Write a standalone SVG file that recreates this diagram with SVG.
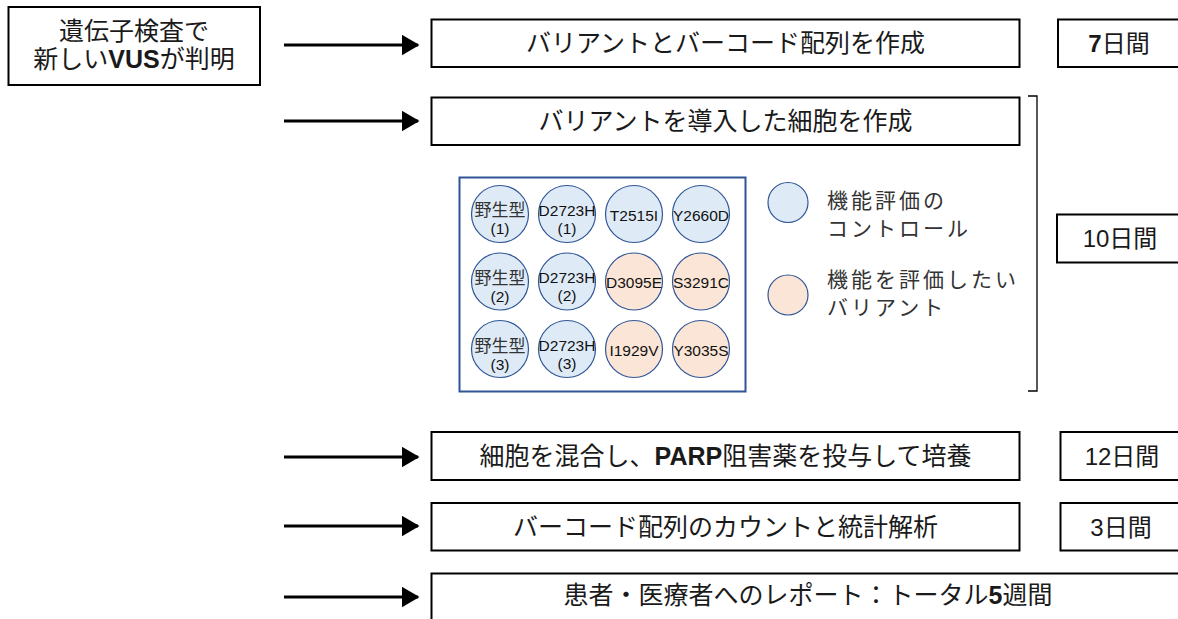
<svg xmlns="http://www.w3.org/2000/svg" width="1178" height="619" viewBox="0 0 1178 619">
<defs>
<style>
.box{fill:#fff;stroke:#000;stroke-width:2}
.t{font-family:"Liberation Sans","Noto Sans CJK JP",sans-serif;font-size:25px;fill:#1a1a1a;text-anchor:middle}
.d{font-size:24px}
.b{font-weight:bold}
.arr{stroke:#000;stroke-width:3;fill:none;marker-end:url(#ah)}
.wb{fill:#DEEBF7;stroke:#2F5597;stroke-width:1.2}
.wo{fill:#FBE5D6;stroke:#2F5597;stroke-width:1.2}
.ct{font-family:"Liberation Sans","Noto Sans CJK JP",sans-serif;font-size:15.5px;fill:#111;text-anchor:middle}
.cj{font-size:17px;fill:#333}
.lg{font-family:"Liberation Sans","Noto Sans CJK JP",sans-serif;font-size:21px;fill:#333;letter-spacing:3px}
</style>
<marker id="ah" markerWidth="6" markerHeight="7" refX="5.5" refY="3.5" orient="auto" markerUnits="strokeWidth">
<path d="M0,0 L6,3.5 L0,7 Z" fill="#000"/>
</marker>
</defs>
<rect width="1178" height="619" fill="#fff"/>

<g id="connectors">
<line class="arr" x1="284" y1="45" x2="418" y2="45"/>
<line class="arr" x1="284" y1="121" x2="418" y2="121"/>
<line class="arr" x1="284" y1="457" x2="418" y2="457"/>
<line class="arr" x1="284" y1="526" x2="418" y2="526"/>
<line class="arr" x1="284" y1="597" x2="418" y2="597"/>
<path d="M1028,96 H1037 V391 H1028" fill="none" stroke="#000" stroke-width="1.3"/>
</g>

<g id="start">
<rect class="box" x="8.5" y="7" width="251.5" height="78"/>
<text class="t" x="134" y="40">遺伝子検査で</text>
<text class="t" x="134" y="68">新しい<tspan class="b">VUS</tspan>が判明</text>
</g>

<g id="step1">
<rect class="box" x="431.5" y="19.5" width="588" height="47.5"/>
<text class="t" x="725.5" y="52">バリアントとバーコード配列を作成</text>
</g>
<g id="dur1">
<rect class="box" x="1058" y="19.5" width="130" height="47.5"/>
<text class="t d" x="1119" y="52"><tspan class="b">7</tspan>日間</text>
</g>

<g id="step2">
<rect class="box" x="431.5" y="97.5" width="588" height="47.5"/>
<text class="t" x="725.5" y="130">バリアントを導入した細胞を作成</text>
</g>

<g id="plate">
<rect x="459.5" y="177.5" width="286" height="214" fill="#fff" stroke="#2F5597" stroke-width="2"/>
<circle class="wb" cx="500" cy="214" r="28.5"/>
<circle class="wb" cx="567" cy="214" r="28.5"/>
<circle class="wb" cx="634" cy="214" r="28.5"/>
<circle class="wb" cx="701" cy="214" r="28.5"/>
<circle class="wb" cx="500" cy="281.5" r="28.5"/>
<circle class="wb" cx="567" cy="281.5" r="28.5"/>
<circle class="wo" cx="634" cy="281.5" r="28.5"/>
<circle class="wo" cx="701" cy="281.5" r="28.5"/>
<circle class="wb" cx="500" cy="349" r="28.5"/>
<circle class="wb" cx="567" cy="349" r="28.5"/>
<circle class="wo" cx="634" cy="349" r="28.5"/>
<circle class="wo" cx="701" cy="349" r="28.5"/>
<text class="ct cj" x="500" y="216">野生型</text>
<text class="ct" x="500" y="234">(1)</text>
<text class="ct" x="567" y="216">D2723H</text>
<text class="ct" x="567" y="234">(1)</text>
<text class="ct" x="634" y="221">T2515I</text>
<text class="ct" x="701" y="221">Y2660D</text>
<text class="ct cj" x="500" y="284">野生型</text>
<text class="ct" x="500" y="302">(2)</text>
<text class="ct" x="567" y="283">D2723H</text>
<text class="ct" x="567" y="301">(2)</text>
<text class="ct" x="634" y="288">D3095E</text>
<text class="ct" x="701" y="288">S3291C</text>
<text class="ct cj" x="500" y="352">野生型</text>
<text class="ct" x="500" y="370">(3)</text>
<text class="ct" x="567" y="351">D2723H</text>
<text class="ct" x="567" y="369">(3)</text>
<text class="ct" x="634" y="356">I1929V</text>
<text class="ct" x="701" y="356">Y3035S</text>
</g>

<g id="legend">
<circle class="wb" cx="788" cy="202.5" r="20"/>
<circle class="wo" cx="788" cy="295" r="20"/>
<text class="lg" x="827" y="208">機能評価の</text>
<text class="lg" x="827" y="236">コントロール</text>
<text class="lg" x="827" y="287">機能を評価したい</text>
<text class="lg" x="827" y="315">バリアント</text>
</g>

<g id="dur2">
<rect class="box" x="1057" y="214.5" width="131" height="48"/>
<text class="t d" x="1120" y="246.5">10日間</text>
</g>

<g id="step3">
<rect class="box" x="431.5" y="432" width="588" height="48"/>
<text class="t" x="725.5" y="465">細胞を混合し、<tspan class="b">PARP</tspan>阻害薬を投与して培養</text>
</g>
<g id="dur3">
<rect class="box" x="1060.5" y="432" width="130" height="48"/>
<text class="t d" x="1122" y="465">12日間</text>
</g>

<g id="step4">
<rect class="box" x="431.5" y="503" width="588" height="47.5"/>
<text class="t" x="725.5" y="535.5">バーコード配列のカウントと統計解析</text>
</g>
<g id="dur4">
<rect class="box" x="1060.5" y="503" width="130" height="47.5"/>
<text class="t d" x="1121" y="535.5">3日間</text>
</g>

<g id="step5">
<rect class="box" x="431.5" y="573.5" width="760" height="60"/>
<text class="t" x="808" y="604">患者・医療者へのレポート：トータル<tspan class="b">5</tspan>週間</text>
</g>
</svg>
